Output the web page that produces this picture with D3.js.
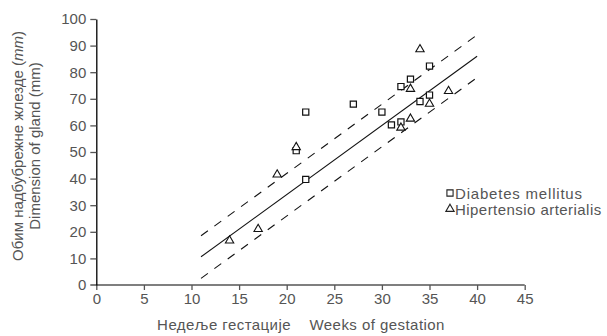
<!DOCTYPE html>
<html>
<head>
<meta charset="utf-8">
<script src="https://cdn.jsdelivr.net/npm/d3@7"></script>
<style>
  body { margin: 0; background: #fff; }
  text { font-family: "Liberation Sans", Arial, sans-serif; fill: #555; }
</style>
</head>
<body>
<script>
// data
const diabetesWeeks = [22, 27, 21, 22, 35, 33, 32, 35, 34, 30, 32, 31];
const diabetesSize  = [65, 68, 50.5, 39.7, 82.3, 77.4, 74.6, 71.4, 69, 65, 61.3, 60.2];
const hyperWeeks = [21, 19, 17, 14, 34, 33, 37, 35, 33, 32];
const hyperSize  = [52, 41.7, 21.2, 16.9, 88.8, 73.9, 73.1, 68.3, 62.7, 59.3];

// regression line and its limits, at both ends
const fitWeeks = [11, 40];
const fitMid   = [10.6, 86];
const fitUpper = [18.5, 94];
const fitLower = [2.5, 78];

const xTicks = [0, 5, 10, 15, 20, 25, 30, 35, 40, 45];
const yTicks = [0, 10, 20, 30, 40, 50, 60, 70, 80, 90, 100];
const legendLabels = ["Diabetes mellitus", "Hipertensio arterialis"];

const w = 607;
const h = 336;

const svg = d3.select("body")
    .append("svg")
    .attr("width", w)
    .attr("height", h);

const x = d3.scaleLinear().domain([0, 45]).range([96.3, 524.7]);
const y = d3.scaleLinear().domain([0, 100]).range([285, 19]);

// x axis
const gx = svg.append("g")
    .attr("transform", `translate(0,${y(0)})`)
    .call(d3.axisBottom(x).tickValues(xTicks).tickSize(5).tickSizeOuter(0).tickPadding(3));
gx.select(".domain").attr("stroke", "#555").attr("stroke-width", 1.3)
    .attr("d", `M${x(0) - 6},0H${x(45)}`);
gx.selectAll(".tick line").attr("stroke", "#555").attr("stroke-width", 1.3);
gx.selectAll(".tick text").style("font-size", "15px").attr("fill", "#555");

// y axis
const gy = svg.append("g")
    .attr("transform", `translate(${x(0)},0)`)
    .call(d3.axisLeft(y).tickValues(yTicks).tickSize(6).tickSizeOuter(0).tickPadding(4));
gy.select(".domain").attr("stroke", "#000").attr("stroke-width", 1.3);
gy.selectAll(".tick line").attr("stroke", "#555").attr("stroke-width", 1.3);
gy.selectAll(".tick text").style("font-size", "15px").attr("fill", "#555");
gy.selectAll(".tick").filter(d => d === 0).select("line").remove();

// regression lines
const line = d3.line().x(d => x(d[0])).y(d => y(d[1]));
[[fitMid, null], [fitUpper, "8.5,8"], [fitLower, "8.5,8"]].forEach(([vals, dash]) => {
    svg.append("path")
        .attr("d", line(fitWeeks.map((wk, i) => [wk, vals[i]])))
        .attr("fill", "none")
        .attr("stroke", "#111")
        .attr("stroke-width", 1.1)
        .attr("stroke-dasharray", dash);
});

// points
const sq = d3.symbol().type(d3.symbolSquare).size(38);
const tri = d3.symbol().type(d3.symbolTriangle).size(30);

svg.selectAll("path.dia")
    .data(diabetesWeeks.map((wk, i) => [wk, diabetesSize[i]]))
    .enter()
    .append("path")
    .attr("class", "dia")
    .attr("d", sq)
    .attr("transform", d => `translate(${x(d[0])},${y(d[1])})`)
    .attr("fill", "#fff")
    .attr("stroke", "#111")
    .attr("stroke-width", 1.2);

svg.selectAll("path.hyp")
    .data(hyperWeeks.map((wk, i) => [wk, hyperSize[i]]))
    .enter()
    .append("path")
    .attr("class", "hyp")
    .attr("d", tri)
    .attr("transform", d => `translate(${x(d[0])},${y(d[1]) + 0.5})`)
    .attr("fill", "#fff")
    .attr("stroke", "#111")
    .attr("stroke-width", 1.1);

// legend
const lg = svg.append("g").attr("transform", "translate(450,193)");
lg.append("path").attr("d", sq).attr("fill", "#fff").attr("stroke", "#222").attr("stroke-width", 1.1);
lg.append("path").attr("d", tri).attr("transform", "translate(0,16)").attr("fill", "#fff").attr("stroke", "#222").attr("stroke-width", 1.1);
lg.selectAll("text")
    .data(legendLabels)
    .enter()
    .append("text")
    .attr("x", 5)
    .attr("y", (d, i) => i * 16 + 5.5)
    .style("font-size", "15px")
    .style("letter-spacing", (d, i) => i ? "0.45px" : "0.8px")
    .text(d => d);

// axis titles
svg.append("text")
    .attr("x", 301)
    .attr("y", 330)
    .attr("text-anchor", "middle")
    .style("font-size", "15px")
    .style("letter-spacing", "0.45px")
    .attr("xml:space", "preserve")
    .text("Недеље гестације    Weeks of gestation");

const yt = svg.append("text")
    .attr("transform", "translate(23,146) rotate(-90)")
    .attr("text-anchor", "middle")
    .style("font-size", "15px");
yt.append("tspan").attr("x", 0).attr("dy", 0).text("Обим надбубрежне жлезде (");
yt.append("tspan").style("font-style", "italic").text("mm");
yt.append("tspan").text(")");
yt.append("tspan").attr("x", 0).attr("dy", 16.5).text("Dimension of gland (mm)");
</script>
</body>
</html>
